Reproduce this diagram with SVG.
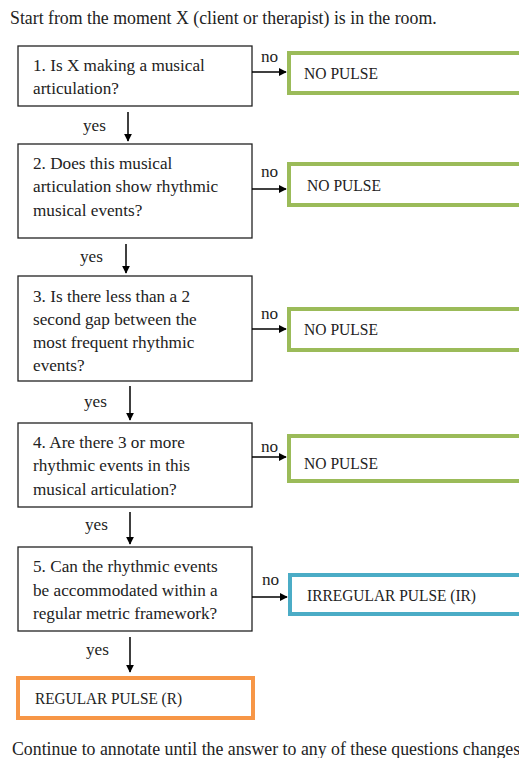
<svg xmlns="http://www.w3.org/2000/svg" width="519" height="758" viewBox="0 0 519 758">
<style>
text{font-family:"Liberation Serif","Times New Roman",serif;font-size:17.2px;fill:#222}
.t{font-size:17.8px}
.r{font-size:17px}
.q{fill:#fff;stroke:#222;stroke-width:1.3}
.g{fill:#fff;stroke:#9BBB59;stroke-width:4}
.b{fill:#fff;stroke:#4BACC6;stroke-width:4}
.o{fill:#fff;stroke:#F79646;stroke-width:4}
.c{stroke:#000;stroke-width:1.5;fill:none;marker-end:url(#ah)}
</style>
<defs>
<marker id="ah" viewBox="0 0 10 10" refX="9" refY="5" markerWidth="8" markerHeight="8" markerUnits="userSpaceOnUse" orient="auto"><path d="M0,0L10,5L0,10z" fill="#000"/></marker>
</defs>
<rect width="519" height="758" fill="#fff"/>
<text class="t" x="10" y="24">Start from the moment X (client or therapist) is in the room.</text>
<g id="q1"><rect class="q" x="18" y="46" width="234" height="60"/><text x="33" y="71">1. Is X making a musical</text><text x="33" y="94">articulation?</text></g>
<g id="r1"><rect class="g" x="289" y="53" width="240" height="40"/><text class="r" x="304" y="79" textLength="74" lengthAdjust="spacingAndGlyphs">NO PULSE</text></g>
<g id="q2"><rect class="q" x="18" y="144" width="234" height="94"/><text x="33" y="169">2. Does this musical</text><text x="33" y="192">articulation show rhythmic</text><text x="33" y="216">musical events?</text></g>
<g id="r2"><rect class="g" x="289" y="164" width="240" height="41"/><text class="r" x="307" y="191" textLength="74" lengthAdjust="spacingAndGlyphs">NO PULSE</text></g>
<g id="q3"><rect class="q" x="18" y="276" width="234" height="105"/><text x="33" y="302">3. Is there less than a 2</text><text x="33" y="325">second gap between the</text><text x="33" y="348">most frequent rhythmic</text><text x="33" y="371">events?</text></g>
<g id="r3"><rect class="g" x="289" y="309" width="240" height="41"/><text class="r" x="304" y="335" textLength="74" lengthAdjust="spacingAndGlyphs">NO PULSE</text></g>
<g id="q4"><rect class="q" x="18" y="423" width="234" height="84"/><text x="33" y="448">4. Are there 3 or more</text><text x="33" y="471">rhythmic events in this</text><text x="33" y="495">musical articulation?</text></g>
<g id="r4"><rect class="g" x="289" y="436" width="240" height="45"/><text class="r" x="304" y="469" textLength="74" lengthAdjust="spacingAndGlyphs">NO PULSE</text></g>
<g id="q5"><rect class="q" x="18" y="547" width="234" height="84"/><text x="33" y="572">5. Can the rhythmic events</text><text x="33" y="596">be accommodated within a</text><text x="33" y="619">regular metric framework?</text></g>
<g id="r5"><rect class="b" x="290" y="575" width="240" height="39"/><text class="r" x="307" y="601" textLength="169" lengthAdjust="spacingAndGlyphs">IRREGULAR PULSE (IR)</text></g>
<g id="r6"><rect class="o" x="18" y="678" width="235" height="40"/><text class="r" x="35" y="704" textLength="147" lengthAdjust="spacingAndGlyphs">REGULAR PULSE (R)</text></g>
<g id="connectors">
<path class="c" d="M252,72H286"/><text x="261" y="62">no</text>
<path class="c" d="M128,112V141"/><text x="83" y="131">yes</text>
<path class="c" d="M252,189H286"/><text x="261" y="177">no</text>
<path class="c" d="M126,244V273"/><text x="80" y="262">yes</text>
<path class="c" d="M252,329H286"/><text x="261" y="319">no</text>
<path class="c" d="M130,386V420"/><text x="84" y="407">yes</text>
<path class="c" d="M252,457H286"/><text x="261" y="452">no</text>
<path class="c" d="M130,512V544"/><text x="85" y="530">yes</text>
<path class="c" d="M252,597H287"/><text x="262" y="585">no</text>
<path class="c" d="M130,637V672"/><text x="86" y="655">yes</text>
</g>
<text class="t" x="12" y="755">Continue to annotate until the answer to any of these questions changes</text>
</svg>
